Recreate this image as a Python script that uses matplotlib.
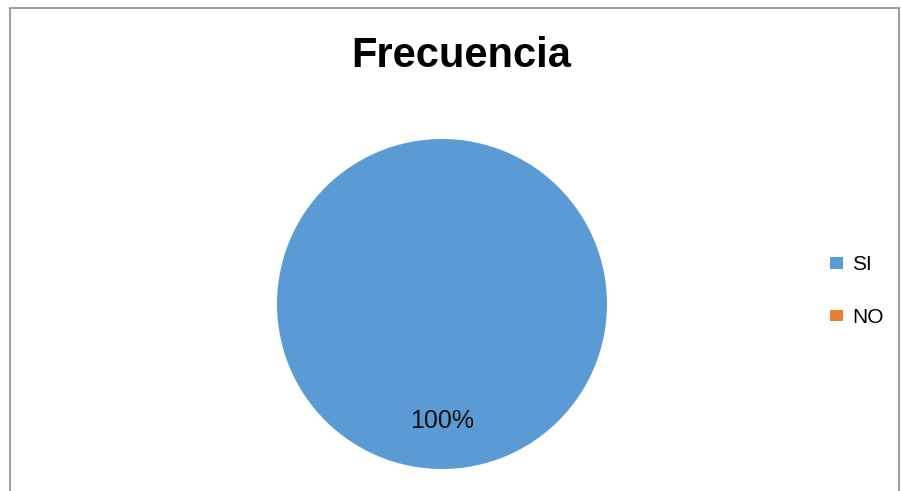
import matplotlib
matplotlib.use('Agg')
import matplotlib.pyplot as plt
from matplotlib.patches import Rectangle, Patch

labels = ['SI', 'NO']
values = [100, 0]
colors = ['#5B9BD5', '#ED7D31']

W, H = 901, 491
fig = plt.figure(figsize=(W / 100, H / 100), dpi=100)

# outer chart border (cut off at the bottom)
fig.patches.append(Rectangle((9.5 / W, -0.02), (899 - 9.5) / W, (H - 7.5) / H + 0.02,
                             transform=fig.transFigure, fill=False,
                             edgecolor='#8c8c8c', lw=1.2, clip_on=False))

cx, cy, r = 442, H - 304, 165
ax = fig.add_axes([(cx - r) / W, (cy - r) / H, 2 * r / W, 2 * r / H])
ax.pie(values, colors=colors, startangle=90, counterclock=False, radius=1,
       autopct=lambda p: f'{p:.0f}%' if p > 0 else '', pctdistance=0.71,
       textprops=dict(fontsize=18, family=['Liberation Sans', 'DejaVu Sans'],
                      color='#111111'))
ax.set_aspect('equal')
ax.set_xlim(-1, 1)
ax.set_ylim(-1, 1)

fig.text(461 / W, 1 - 56 / H, 'Frecuencia', ha='center', va='center',
         fontsize=30, fontweight='bold',
         family=['Liberation Sans Narrow', 'Liberation Sans', 'DejaVu Sans'])

handles = [Patch(facecolor=c, edgecolor='none') for c in colors]
fig.legend(handles, labels, loc='center left', bbox_to_anchor=(830 / W, 1 - 291 / H),
           frameon=False, handlelength=0.6, handleheight=0.45, handletextpad=0.45,
           labelspacing=1.6, borderpad=0, borderaxespad=0,
           prop=dict(family=['Liberation Sans', 'DejaVu Sans'], size=15))

fig.savefig('out.png', dpi=100)
